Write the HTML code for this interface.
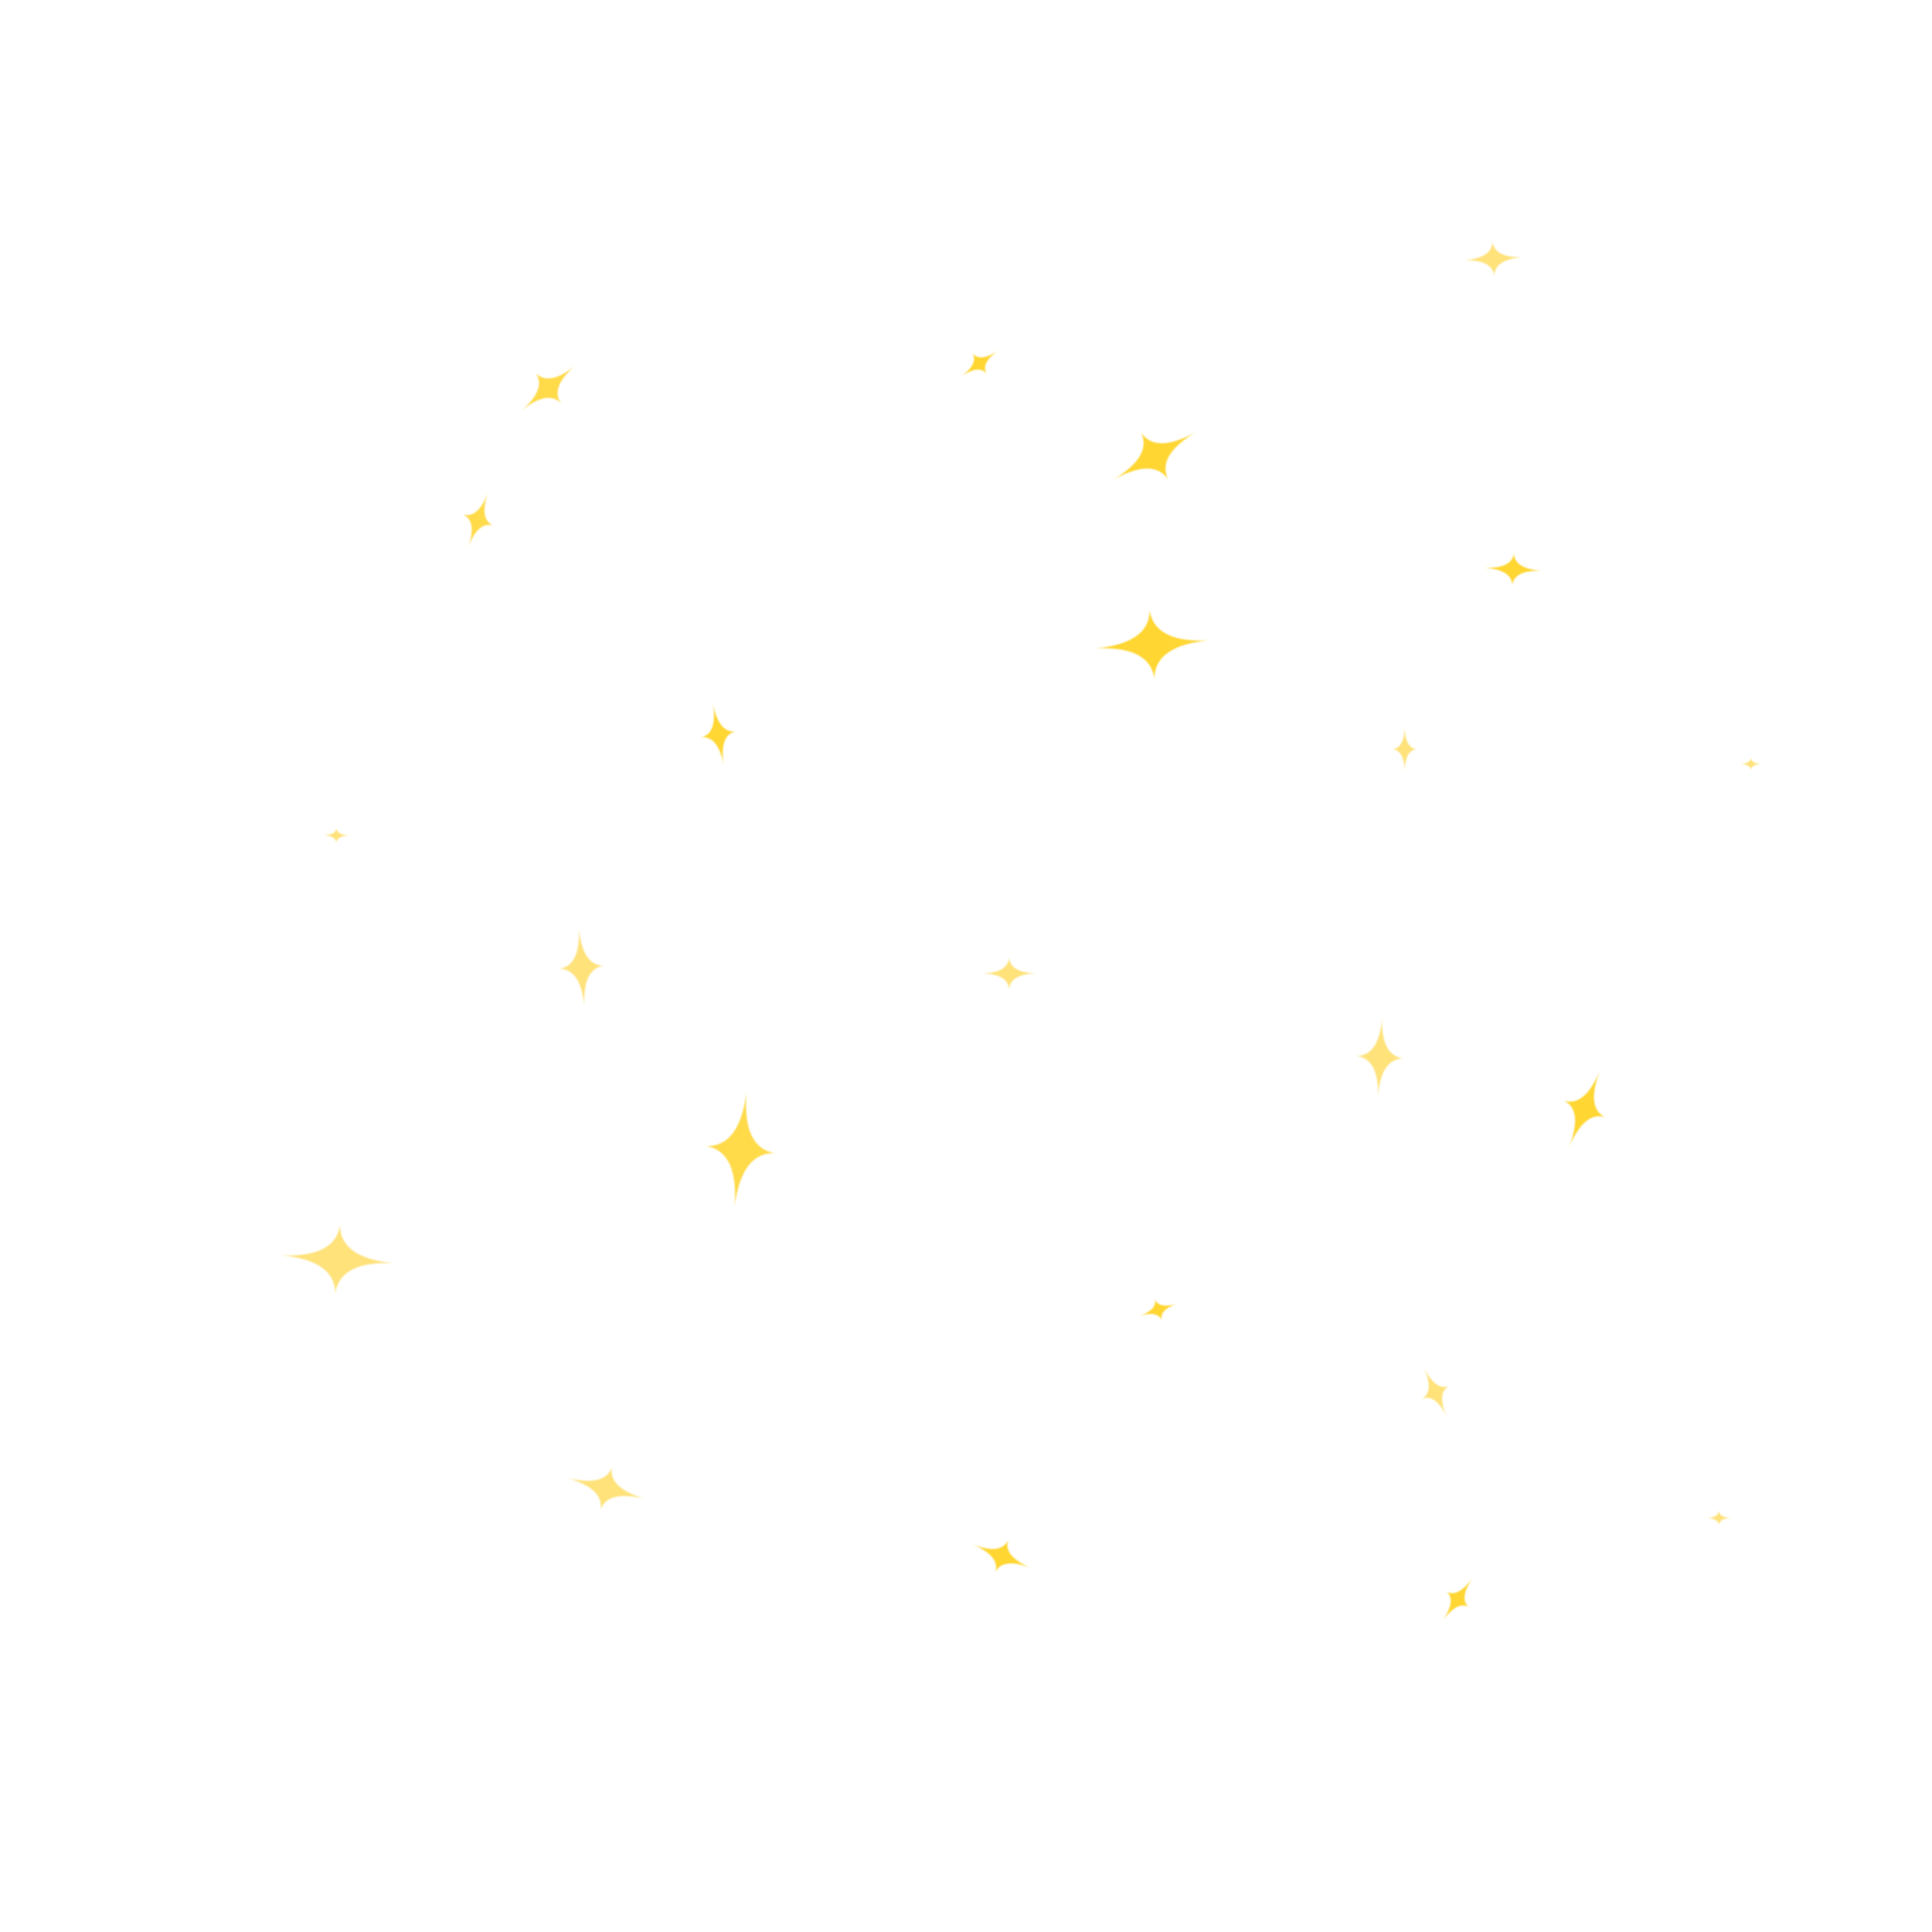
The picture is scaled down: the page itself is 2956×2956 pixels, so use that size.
<!DOCTYPE html>
<html><head><meta charset="utf-8"><style>
html,body{margin:0;padding:0;background:#fff;}
svg{display:block;}
</style></head><body>
<svg width="2956" height="2956" viewBox="0 0 1568 1568" xmlns="http://www.w3.org/2000/svg">
<defs>
<g id="s">
<path d="M-1,0 Q-0.04,-0.04 0,-1 Q0.04,-0.04 1,0 Q0.04,0.04 0,1 Q-0.04,0.04 -1,0 Z"/>
<ellipse cx="0" cy="0" rx="0.2" ry="0.22"/>
</g>
<filter id="b"><feGaussianBlur stdDeviation="0.5"/></filter>
</defs>
<g filter="url(#b)">
<use href="#s" fill="#FFE27A" transform="translate(1212,210) rotate(-3) scale(24,14)"/>
<use href="#s" fill="#FFDA4A" transform="translate(445,315) rotate(-40) scale(28,16)"/>
<use href="#s" fill="#FFD633" transform="translate(795,295) rotate(-35) scale(18,10)"/>
<use href="#s" fill="#FFD633" transform="translate(937,370) rotate(-30) scale(38,22)"/>
<use href="#s" fill="#FFDA4A" transform="translate(388,422) rotate(20) scale(13,23)"/>
<use href="#s" fill="#FFD633" transform="translate(1228,462) rotate(3) scale(23,13)"/>
<use href="#s" fill="#FFD633" transform="translate(935,523) rotate(-4) scale(46,28)"/>
<use href="#s" fill="#FFD633" transform="translate(583,596) rotate(-10) scale(14,25)"/>
<use href="#s" fill="#FFE27A" transform="translate(1140,608) scale(10,18)"/>
<use href="#s" fill="#FFE27A" transform="translate(1421,620) scale(9,5)"/>
<use href="#s" fill="#FFE27A" transform="translate(273,678) scale(11,6)"/>
<use href="#s" fill="#FFE27A" transform="translate(472,785) rotate(-4) scale(18,32)"/>
<use href="#s" fill="#FFE27A" transform="translate(819,790) scale(22,13)"/>
<use href="#s" fill="#FFE27A" transform="translate(1120,858) rotate(3) scale(19,32)"/>
<use href="#s" fill="#FFD633" transform="translate(1286,900) rotate(22) scale(18,33)"/>
<use href="#s" fill="#FFDA4A" transform="translate(601,933) rotate(6) scale(28,47)"/>
<use href="#s" fill="#FFE27A" transform="translate(274,1022) rotate(4) scale(46,28)"/>
<use href="#s" fill="#FFD633" transform="translate(940,1063) rotate(-18) scale(16,9)"/>
<use href="#s" fill="#FFE27A" transform="translate(1165,1130) rotate(-25) scale(12,22)"/>
<use href="#s" fill="#FFE27A" transform="translate(492,1208) rotate(15) scale(33,18)"/>
<use href="#s" fill="#FFD633" transform="translate(813,1263) rotate(22) scale(25,14)"/>
<use href="#s" fill="#FFE27A" transform="translate(1395,1232) scale(10,6)"/>
<use href="#s" fill="#FFD633" transform="translate(1183,1298) rotate(35) scale(11,21)"/>
</g>
</svg>
</body></html>
